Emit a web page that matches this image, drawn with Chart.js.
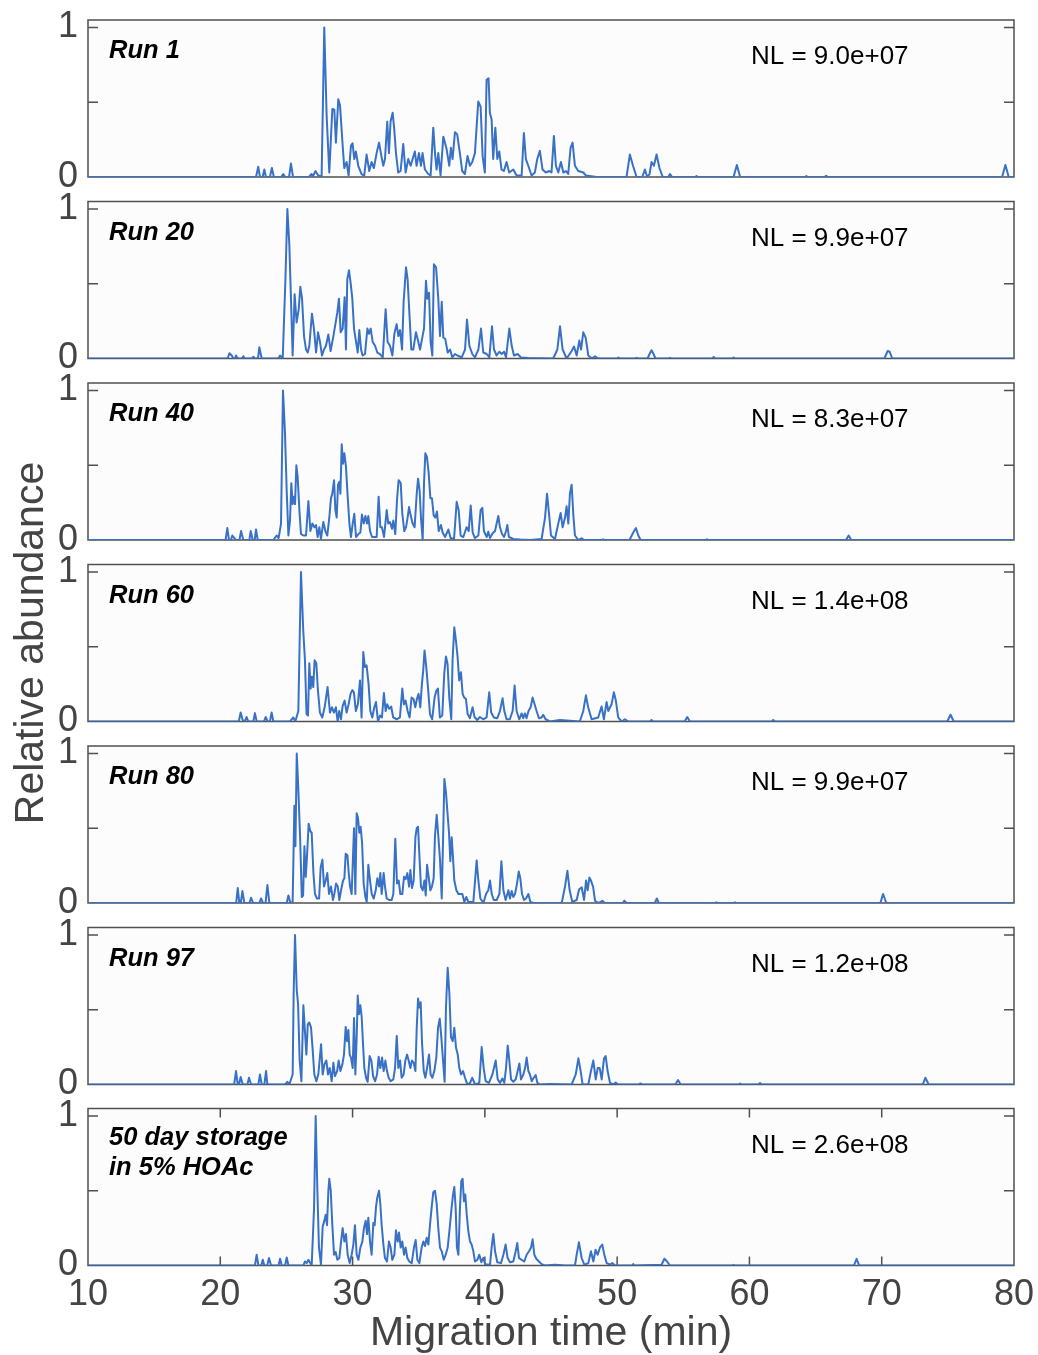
<!DOCTYPE html>
<html>
<head>
<meta charset="utf-8">
<script src="https://cdn.jsdelivr.net/npm/chart.js@4.4.1/dist/chart.umd.min.js"></script>
<style>
  html, body { margin: 0; padding: 0; background: #fff; }
  #wrap { position: relative; width: 1038px; height: 1355px; }
  #wrap canvas { position: absolute; left: 0; top: 0; }
</style>
</head>
<body>
<div id="wrap"></div>
<script>
// relative abundance traces, [migration time (min), relative abundance]
const run1 = [[10,0],[22.7,0],[22.87,0.068],[23.0,0],[23.2,0],[23.33,0.05],[23.45,0],[23.75,0],[23.9,0.06],[24.05,0],[24.6,0],[24.76,0.02],[24.9,0],[25.2,0],[25.34,0.09],[25.5,0],[26.7,0],[26.9,0.02],[27.0,0.005],[27.2,0.04],[27.4,0.01],[27.66,0.005],[27.86,1.0],[28.04,0.41],[28.24,0.03],[28.47,0.455],[28.62,0.45],[28.74,0.23],[28.92,0.52],[29.05,0.48],[29.22,0.25],[29.37,0.06],[29.55,0.1],[29.7,0.01],[29.88,0.21],[30.0,0.225],[30.13,0.12],[30.25,0.17],[30.43,0.075],[30.68,0.02],[30.88,0.01],[31.06,0.15],[31.26,0.04],[31.44,0.1],[31.61,0.06],[31.82,0.16],[32.0,0.23],[32.2,0.13],[32.32,0.075],[32.45,0.12],[32.62,0.37],[32.75,0.16],[32.87,0.37],[33.03,0.43],[33.15,0.32],[33.28,0.16],[33.45,0.03],[33.63,0.04],[33.83,0.22],[34.01,0.03],[34.21,0.12],[34.39,0.075],[34.54,0.12],[34.71,0.17],[34.84,0.075],[35.02,0.16],[35.17,0.075],[35.29,0.16],[35.47,0.05],[35.72,0.02],[35.9,0.01],[36.1,0.33],[36.23,0.16],[36.35,0.05],[36.48,0.16],[36.65,0.01],[36.86,0.27],[36.98,0.23],[37.11,0.185],[37.31,0.075],[37.43,0.195],[37.56,0.12],[37.74,0.3],[37.91,0.285],[38.11,0.16],[38.29,0.04],[38.49,0.02],[38.69,0.14],[38.87,0.075],[39.05,0.1],[39.25,0.16],[39.5,0.505],[39.68,0.47],[39.83,0.14],[40.0,0.03],[40.13,0.65],[40.28,0.66],[40.38,0.43],[40.51,0.385],[40.63,0.12],[40.79,0.33],[40.94,0.12],[41.09,0.17],[41.26,0.05],[41.44,0.04],[41.64,0.1],[41.84,0.03],[42.15,0.05],[42.4,0.01],[42.78,0.01],[42.95,0.295],[43.1,0.12],[43.28,0.075],[43.53,0.01],[43.78,0.03],[43.96,0.12],[44.16,0.175],[44.36,0.05],[44.61,0.03],[44.87,0.04],[45.04,0.03],[45.22,0.275],[45.37,0.075],[45.55,0.03],[45.75,0.1],[45.93,0.03],[46.13,0.04],[46.3,0.02],[46.48,0.195],[46.63,0.23],[46.81,0.075],[47.06,0.04],[47.44,0.03],[47.64,0.01],[48.45,0],[50.71,0],[50.96,0.15],[51.2,0.075],[51.47,0],[51.9,0],[52.1,0.05],[52.27,0],[52.45,0.02],[52.6,0.1],[52.78,0.075],[52.98,0.15],[53.2,0.06],[53.45,0],[53.85,0],[54.0,0.02],[54.15,0],[55.9,0],[56.0,0.006],[56.1,0],[58.8,0],[59.05,0.08],[59.3,0],[64.2,0],[64.3,0.006],[64.4,0],[65.7,0],[65.8,0.008],[65.9,0],[79.1,0],[79.35,0.08],[79.6,0],[80,0]];

const run20 = [[10,0],[20.55,0],[20.69,0.035],[20.86,0.02],[21.0,0],[21.1,0],[21.19,0.02],[21.3,0],[21.65,0],[21.74,0.015],[21.85,0],[22.4,0],[22.5,0.012],[22.6,0],[22.85,0],[22.95,0.075],[23.13,0],[24.39,0],[24.52,0.02],[24.72,0],[24.92,0.52],[25.07,1.0],[25.22,0.76],[25.35,0.38],[25.47,0.02],[25.62,0.43],[25.77,0.24],[25.93,0.33],[26.05,0.48],[26.18,0.4],[26.33,0.15],[26.48,0.06],[26.61,0.04],[26.73,0.085],[26.93,0.3],[27.08,0.2],[27.24,0.04],[27.39,0.175],[27.54,0.11],[27.69,0.02],[27.84,0.06],[27.99,0.085],[28.17,0.16],[28.34,0.05],[28.55,0.15],[28.72,0.24],[28.85,0.31],[28.97,0.4],[29.1,0.175],[29.25,0.2],[29.4,0.41],[29.5,0.06],[29.6,0.53],[29.73,0.59],[29.86,0.5],[29.98,0.4],[30.11,0.2],[30.23,0.13],[30.39,0.04],[30.51,0.19],[30.64,0.06],[30.76,0.02],[30.94,0.03],[31.12,0.2],[31.24,0.165],[31.37,0.2],[31.52,0.11],[31.7,0.085],[31.87,0.04],[32.07,0.03],[32.28,0.007],[32.5,0.33],[32.65,0.11],[32.83,0.085],[33.01,0.02],[33.16,0.165],[33.33,0.23],[33.46,0.15],[33.59,0.19],[33.74,0.06],[33.86,0.38],[34.04,0.61],[34.16,0.53],[34.29,0.31],[34.44,0.06],[34.59,0.06],[34.79,0.175],[34.92,0.13],[35.1,0.06],[35.25,0.13],[35.4,0.2],[35.55,0.52],[35.65,0.4],[35.78,0.44],[35.9,0.11],[36.03,0.02],[36.15,0.63],[36.31,0.61],[36.48,0.4],[36.61,0.15],[36.74,0.38],[36.86,0.14],[37.01,0.13],[37.19,0.04],[37.37,0.06],[37.54,0.007],[37.74,0.03],[37.92,0.02],[38.25,0.007],[38.5,0.06],[38.65,0.26],[38.83,0.085],[39.05,0.03],[39.25,0.007],[39.51,0.06],[39.71,0.2],[39.88,0.04],[40.14,0.03],[40.34,0.007],[40.54,0.215],[40.69,0.06],[40.89,0.02],[41.09,0.045],[41.27,0.03],[41.45,0.045],[41.6,0.007],[41.85,0.2],[42.03,0.085],[42.2,0.02],[42.48,0.03],[42.73,0.007],[43.29,0.003],[45.17,0],[45.48,0.06],[45.68,0.215],[45.88,0.06],[46.18,0],[46.56,0.05],[46.74,0.08],[46.94,0.02],[47.14,0.12],[47.27,0.06],[47.44,0.175],[47.62,0.14],[47.82,0.02],[48.07,0],[48.33,0.015],[48.53,0],[50.0,0],[50.09,0.007],[50.2,0],[51.4,0],[51.47,0.005],[51.55,0],[52.3,0],[52.45,0.03],[52.6,0.055],[52.75,0.03],[52.9,0],[53.9,0],[54.0,0.005],[54.1,0],[57.2,0],[57.3,0.01],[57.4,0],[58.7,0],[58.8,0.007],[58.9,0],[70.2,0],[70.45,0.05],[70.6,0.045],[70.8,0],[80,0]];

const run40 = [[10,0],[20.4,0],[20.53,0.08],[20.66,0],[20.8,0],[20.91,0.03],[21.11,0.007],[21.2,0],[21.45,0],[21.57,0.06],[21.74,0],[22.2,0],[22.3,0.06],[22.45,0],[22.6,0],[22.7,0.07],[22.83,0],[24.01,0],[24.26,0.03],[24.41,0.013],[24.59,0.11],[24.74,1.0],[24.89,0.72],[25.02,0.33],[25.15,0.03],[25.27,0.13],[25.37,0.38],[25.47,0.24],[25.57,0.29],[25.65,0.24],[25.75,0.5],[25.85,0.42],[25.98,0.2],[26.1,0.04],[26.28,0.03],[26.48,0.03],[26.66,0.26],[26.81,0.06],[26.96,0.11],[27.11,0.085],[27.24,0.1],[27.36,0.02],[27.49,0.085],[27.61,0.007],[27.79,0.12],[27.94,0.06],[28.09,0.03],[28.24,0.15],[28.37,0.28],[28.47,0.31],[28.6,0.4],[28.7,0.2],[28.8,0.15],[28.9,0.37],[29.0,0.39],[29.08,0.31],[29.18,0.64],[29.28,0.51],[29.38,0.58],[29.5,0.49],[29.63,0.29],[29.76,0.11],[29.88,0.02],[30.01,0.11],[30.13,0.175],[30.26,0.02],[30.44,0.04],[30.59,0.05],[30.71,0.17],[30.84,0.11],[30.97,0.16],[31.09,0.11],[31.19,0.16],[31.32,0.06],[31.47,0.02],[31.65,0.02],[31.82,0.02],[31.97,0.29],[32.1,0.085],[32.22,0.085],[32.38,0.02],[32.58,0.2],[32.7,0.11],[32.83,0.12],[32.98,0.075],[33.08,0.13],[33.23,0.04],[33.36,0.27],[33.48,0.4],[33.64,0.38],[33.76,0.175],[33.91,0.06],[34.04,0.085],[34.16,0.15],[34.27,0.22],[34.39,0.165],[34.54,0.11],[34.69,0.085],[34.85,0.31],[34.95,0.41],[35.07,0.33],[35.17,0.15],[35.3,0],[35.4,0.38],[35.5,0.58],[35.62,0.555],[35.75,0.45],[35.88,0.28],[36.0,0.28],[36.13,0.165],[36.26,0.15],[36.38,0.19],[36.51,0.06],[36.68,0.1],[36.81,0.05],[36.99,0.02],[37.24,0.07],[37.41,0.013],[37.67,0.007],[37.87,0.255],[38.02,0.2],[38.17,0.03],[38.37,0.02],[38.62,0.085],[38.78,0.06],[38.93,0.23],[39.08,0.05],[39.25,0.013],[39.51,0.03],[39.68,0.2],[39.81,0.215],[39.93,0.06],[40.14,0.02],[40.26,0.055],[40.39,0.013],[40.59,0.045],[40.77,0.06],[40.89,0.11],[41.02,0.16],[41.14,0.085],[41.3,0.04],[41.45,0.02],[41.6,0.06],[41.7,0.1],[41.82,0.02],[42.15,0.007],[42.66,0.003],[43.41,0],[44.29,0.007],[44.55,0.15],[44.7,0.31],[44.85,0.175],[45.0,0.03],[45.3,0.007],[45.55,0.11],[45.73,0.18],[45.88,0.085],[46.06,0.15],[46.18,0.225],[46.31,0.11],[46.43,0.31],[46.56,0.37],[46.69,0.165],[46.81,0.03],[47.07,0],[47.32,0.011],[47.49,0],[48.9,0],[48.95,0.005],[49.05,0],[50.9,0],[50.97,0.007],[51.22,0.05],[51.42,0.08],[51.6,0.03],[51.78,0],[56.7,0],[56.8,0.005],[56.9,0],[67.3,0],[67.5,0.03],[67.7,0],[80,0]];

const run60 = [[10,0],[21.4,0],[21.54,0.06],[21.69,0.01],[21.85,0],[21.99,0.03],[22.12,0],[22.5,0],[22.62,0.056],[22.75,0],[23.3,0],[23.43,0.03],[23.58,0],[23.75,0],[23.88,0.06],[24.01,0],[25.27,0],[25.52,0.027],[25.67,0],[25.9,0.07],[26.1,1.0],[26.27,0.61],[26.4,0.41],[26.52,0.05],[26.63,0.04],[26.73,0.39],[26.83,0.22],[26.93,0.3],[27.03,0.23],[27.13,0.41],[27.26,0.39],[27.38,0.21],[27.53,0.06],[27.71,0.027],[27.89,0.095],[28.11,0.23],[28.29,0.06],[28.44,0.095],[28.59,0.06],[28.74,0.095],[28.87,0],[28.99,0.07],[29.12,0.015],[29.25,0.105],[29.4,0.14],[29.55,0.06],[29.7,0.115],[29.85,0.185],[29.98,0.21],[30.1,0.195],[30.25,0.07],[30.4,0.115],[30.56,0.275],[30.68,0.027],[30.81,0.465],[30.93,0.365],[31.06,0.375],[31.21,0.25],[31.34,0.07],[31.49,0.027],[31.64,0.095],[31.77,0.13],[31.92,0],[32.07,0.04],[32.22,0.027],[32.37,0.19],[32.5,0.07],[32.62,0.115],[32.77,0.085],[32.92,0.1],[33.07,0.027],[33.33,0.015],[33.58,0.027],[33.76,0.22],[33.88,0.115],[34.01,0.14],[34.16,0.07],[34.31,0.027],[34.46,0.16],[34.61,0.15],[34.74,0.095],[34.86,0.15],[34.99,0.185],[35.12,0.095],[35.24,0.25],[35.34,0.34],[35.44,0.475],[35.57,0.365],[35.72,0.205],[35.85,0.05],[36.02,0.015],[36.2,0.16],[36.33,0.205],[36.45,0.22],[36.6,0.027],[36.78,0.04],[36.93,0.32],[37.06,0.435],[37.18,0.385],[37.31,0.16],[37.46,0.015],[37.56,0.41],[37.69,0.63],[37.81,0.545],[37.94,0.43],[38.06,0.275],[38.19,0.33],[38.32,0.185],[38.44,0.16],[38.57,0.15],[38.7,0.05],[38.87,0.022],[39.07,0.095],[39.22,0.03],[39.42,0.01],[39.63,0.03],[39.88,0.015],[40.13,0.027],[40.33,0.195],[40.48,0.06],[40.68,0.027],[40.94,0.022],[41.14,0.07],[41.34,0.155],[41.47,0.07],[41.64,0.015],[41.89,0.015],[42.1,0.07],[42.25,0.24],[42.4,0.07],[42.6,0.015],[42.78,0.054],[42.9,0.022],[43.03,0.054],[43.15,0.022],[43.3,0.07],[43.46,0.095],[43.61,0.16],[43.76,0.115],[43.91,0.07],[44.09,0.022],[44.29,0.027],[44.41,0.045],[44.59,0.015],[44.92,0],[45.67,0.01],[47.18,0],[47.44,0.07],[47.64,0.175],[47.81,0.095],[48.07,0.015],[48.57,0.027],[48.82,0.1],[49.0,0.015],[49.2,0.13],[49.33,0.07],[49.58,0.115],[49.75,0.195],[49.9,0.14],[50.08,0.027],[50.33,0],[50.59,0.015],[50.84,0],[52.5,0],[52.6,0.01],[52.7,0],[55.1,0],[55.3,0.03],[55.5,0],[61.7,0],[61.8,0.01],[61.9,0],[74.95,0],[75.2,0.045],[75.45,0],[80,0]];

const run80 = [[10,0],[21.2,0],[21.32,0.1],[21.44,0],[21.55,0],[21.67,0.08],[21.82,0],[22.2,0],[22.33,0.035],[22.48,0],[22.95,0],[23.08,0.03],[23.23,0],[23.42,0],[23.56,0.12],[23.71,0],[25.02,0],[25.15,0.05],[25.3,0],[25.47,0.007],[25.6,0.65],[25.68,0.38],[25.78,1.0],[25.9,0.76],[26.03,0.45],[26.16,0.04],[26.26,0.05],[26.36,0.38],[26.46,0.175],[26.56,0.32],[26.68,0.53],[26.81,0.48],[26.91,0.47],[27.04,0.2],[27.16,0.06],[27.31,0.03],[27.47,0.03],[27.59,0.24],[27.72,0.29],[27.84,0.11],[27.97,0.15],[28.09,0.2],[28.22,0.06],[28.37,0.11],[28.52,0.02],[28.62,0.06],[28.75,0.13],[28.88,0.11],[29.0,0.02],[29.13,0.085],[29.28,0.15],[29.38,0.165],[29.48,0.33],[29.61,0.32],[29.71,0.2],[29.81,0.11],[29.93,0.06],[30.04,0.33],[30.11,0.5],[30.21,0.06],[30.31,0.6],[30.41,0.57],[30.51,0.47],[30.61,0.51],[30.72,0.4],[30.84,0.13],[30.97,0.04],[31.07,0.007],[31.19,0.255],[31.32,0.15],[31.45,0.06],[31.6,0.03],[31.75,0.085],[31.87,0.165],[32.0,0.11],[32.1,0.2],[32.2,0.06],[32.35,0.2],[32.45,0.11],[32.58,0.03],[32.76,0.02],[32.96,0.02],[33.08,0.06],[33.23,0.43],[33.36,0.13],[33.49,0.15],[33.61,0.06],[33.76,0.06],[33.89,0.175],[34.02,0.16],[34.14,0.2],[34.27,0.11],[34.37,0.22],[34.49,0.1],[34.62,0.15],[34.75,0.44],[34.85,0.5],[34.95,0.51],[35.05,0.32],[35.17,0.11],[35.3,0.085],[35.43,0.15],[35.53,0.05],[35.63,0.255],[35.75,0.175],[35.88,0.085],[36.0,0.11],[36.13,0.165],[36.23,0.45],[36.36,0.59],[36.48,0.45],[36.61,0.29],[36.74,0.03],[36.84,0.42],[36.94,0.83],[37.06,0.74],[37.16,0.62],[37.29,0.47],[37.39,0.28],[37.49,0.44],[37.59,0.31],[37.69,0.15],[37.85,0.085],[38.0,0.06],[38.15,0.06],[38.3,0.06],[38.45,0.007],[38.6,0.04],[38.75,0.007],[39.13,0.007],[39.26,0.15],[39.38,0.285],[39.51,0.15],[39.66,0.03],[39.89,0],[40.09,0.06],[40.26,0.085],[40.39,0.15],[40.52,0.06],[40.67,0.02],[40.89,0.02],[41.1,0.06],[41.25,0.28],[41.4,0.085],[41.57,0.02],[41.78,0.085],[41.9,0.03],[42.03,0.08],[42.15,0.04],[42.28,0.06],[42.43,0.13],[42.56,0.21],[42.68,0.165],[42.81,0.06],[42.96,0.02],[43.11,0.03],[43.29,0.06],[43.44,0.007],[43.67,0],[45.81,0],[46.06,0.11],[46.24,0.215],[46.41,0.085],[46.61,0.007],[46.94,0.02],[47.12,0.09],[47.32,0.105],[47.5,0.02],[47.65,0.15],[47.77,0.085],[47.9,0.17],[48.02,0.15],[48.18,0.11],[48.33,0.015],[48.58,0],[48.88,0.015],[49.08,0],[50.45,0],[50.54,0.015],[50.72,0],[52.85,0],[53.0,0.03],[53.15,0],[57.4,0],[57.5,0.005],[57.6,0],[58.8,0],[58.9,0.005],[59.0,0],[69.9,0],[70.1,0.06],[70.35,0],[80,0]];

const run97 = [[10,0],[21.05,0],[21.19,0.09],[21.32,0],[21.42,0],[21.54,0.05],[21.7,0],[22.05,0],[22.17,0.045],[22.33,0],[22.88,0],[23.0,0.067],[23.13,0],[23.33,0],[23.46,0.09],[23.56,0],[24.9,0],[25.07,0.018],[25.22,0],[25.47,0.067],[25.55,0.63],[25.65,1.0],[25.78,0.63],[25.88,0.54],[26.0,0.16],[26.13,0.022],[26.28,0.53],[26.41,0.34],[26.51,0.2],[26.61,0.4],[26.73,0.415],[26.86,0.38],[26.99,0.225],[27.11,0.067],[27.26,0.022],[27.41,0.067],[27.62,0.27],[27.74,0.067],[27.87,0.135],[28.02,0.16],[28.14,0.067],[28.27,0.11],[28.42,0.022],[28.55,0.145],[28.67,0.056],[28.83,0.09],[28.95,0.16],[29.08,0.09],[29.23,0.135],[29.35,0.2],[29.48,0.385],[29.58,0.29],[29.68,0.365],[29.78,0.2],[29.88,0.18],[30.01,0.11],[30.11,0.445],[30.21,0.067],[30.31,0.315],[30.39,0.595],[30.49,0.47],[30.59,0.53],[30.69,0.45],[30.79,0.27],[30.89,0.11],[31.02,0.045],[31.14,0.018],[31.29,0.19],[31.42,0.16],[31.55,0.056],[31.7,0.022],[31.85,0.067],[31.97,0.185],[32.1,0.11],[32.23,0.18],[32.35,0.09],[32.48,0.16],[32.6,0.09],[32.73,0.045],[32.88,0.022],[33.08,0.034],[33.21,0.11],[33.34,0.325],[33.46,0.11],[33.59,0.16],[33.71,0.045],[33.86,0.067],[33.99,0.16],[34.12,0.2],[34.24,0.16],[34.37,0.11],[34.49,0.16],[34.62,0.145],[34.75,0.09],[34.85,0.38],[34.95,0.575],[35.05,0.515],[35.15,0.55],[35.25,0.28],[35.38,0.09],[35.5,0.045],[35.63,0.11],[35.78,0.2],[35.9,0.067],[36.03,0.045],[36.18,0.09],[36.33,0.18],[36.46,0.38],[36.59,0.44],[36.71,0.315],[36.84,0.16],[36.96,0.018],[37.06,0.515],[37.19,0.78],[37.32,0.605],[37.44,0.315],[37.57,0.29],[37.69,0.38],[37.82,0.245],[37.95,0.2],[38.07,0.11],[38.2,0.067],[38.35,0.09],[38.5,0.045],[38.63,0.011],[38.83,0],[39.05,0.045],[39.26,0],[39.58,0.011],[39.76,0.25],[39.91,0.11],[40.06,0.022],[40.31,0.011],[40.57,0.067],[40.82,0.16],[40.97,0.034],[41.15,0.011],[41.32,0.04],[41.47,0.011],[41.6,0.11],[41.73,0.26],[41.85,0.16],[41.98,0.034],[42.15,0.018],[42.33,0.034],[42.48,0.09],[42.61,0.14],[42.73,0.034],[42.91,0.067],[43.04,0.11],[43.16,0.18],[43.29,0.09],[43.41,0.067],[43.54,0.022],[43.69,0.045],[43.84,0.063],[43.97,0.011],[44.17,0],[44.92,0.004],[46.56,0],[46.87,0.067],[47.07,0.175],[47.24,0.09],[47.39,0],[47.82,0],[48.02,0.09],[48.2,0.16],[48.38,0.034],[48.53,0.11],[48.68,0.11],[48.83,0.034],[49.01,0.175],[49.13,0.19],[49.28,0.09],[49.46,0.011],[49.71,0],[49.89,0.013],[50.04,0],[51.65,0],[51.73,0.007],[51.8,0],[54.4,0],[54.6,0.03],[54.8,0],[59.2,0],[59.3,0.007],[59.4,0],[60.7,0],[60.8,0.01],[60.9,0],[73.1,0],[73.3,0.045],[73.55,0],[80,0]];

const storage50 = [[10,0],[22.62,0],[22.75,0.072],[22.88,0],[23.1,0],[23.21,0.038],[23.33,0],[23.55,0],[23.68,0.05],[23.84,0],[24.4,0],[24.52,0.045],[24.64,0],[24.9,0],[25.02,0.054],[25.15,0],[26.28,0],[26.4,0.027],[26.53,0.016],[26.66,0.038],[26.91,0],[27.09,0.39],[27.21,1.0],[27.34,0.5],[27.46,0.12],[27.61,0.005],[27.74,0.26],[27.87,0.3],[27.97,0.34],[28.07,0.27],[28.17,0.5],[28.24,0.58],[28.35,0.5],[28.47,0.27],[28.6,0.072],[28.72,0.09],[28.85,0.038],[29.0,0.05],[29.13,0.16],[29.25,0.25],[29.38,0.16],[29.5,0.21],[29.63,0.072],[29.78,0.016],[29.93,0.072],[30.06,0.14],[30.18,0.27],[30.31,0.072],[30.44,0.038],[30.59,0.12],[30.74,0.16],[30.86,0.25],[30.99,0.3],[31.09,0.21],[31.19,0.32],[31.32,0.16],[31.44,0.072],[31.57,0.285],[31.67,0.27],[31.77,0.39],[31.87,0.455],[32.0,0.5],[32.1,0.41],[32.2,0.27],[32.33,0.14],[32.45,0.05],[32.6,0.027],[32.75,0.16],[32.88,0.12],[33.0,0.038],[33.16,0.072],[33.28,0.235],[33.41,0.16],[33.51,0.22],[33.64,0.12],[33.76,0.16],[33.89,0.072],[34.01,0.12],[34.14,0.05],[34.29,0.027],[34.47,0.016],[34.64,0.12],[34.77,0.17],[34.9,0.038],[35.05,0.016],[35.22,0.12],[35.35,0.16],[35.48,0.13],[35.6,0.185],[35.73,0.14],[35.85,0.27],[35.98,0.39],[36.1,0.49],[36.23,0.5],[36.36,0.41],[36.48,0.25],[36.61,0.12],[36.74,0.095],[36.89,0.038],[37.04,0.072],[37.19,0.12],[37.34,0.25],[37.49,0.39],[37.59,0.47],[37.69,0.525],[37.79,0.39],[37.89,0.12],[38.0,0.072],[38.12,0.39],[38.22,0.565],[38.32,0.58],[38.42,0.43],[38.52,0.475],[38.63,0.34],[38.75,0.23],[38.88,0.16],[39.0,0.14],[39.13,0.095],[39.25,0.027],[39.43,0.038],[39.58,0.072],[39.73,0.022],[39.88,0.05],[40.03,0.009],[40.39,0.005],[40.51,0.12],[40.64,0.21],[40.77,0.095],[40.94,0.022],[41.22,0.016],[41.4,0.072],[41.57,0.14],[41.72,0.05],[41.9,0.022],[42.15,0.027],[42.33,0.095],[42.45,0.15],[42.58,0.05],[42.78,0.038],[42.98,0.027],[43.16,0.072],[43.34,0.095],[43.49,0.12],[43.61,0.175],[43.74,0.072],[43.89,0.045],[44.09,0.027],[44.29,0.009],[44.55,0],[45.3,0.005],[46.06,0],[46.81,0],[46.94,0.072],[47.11,0.155],[47.32,0.05],[47.52,0.005],[47.82,0.016],[48.02,0.095],[48.2,0.027],[48.37,0.105],[48.53,0.072],[48.7,0.12],[48.88,0.14],[49.03,0.072],[49.21,0.016],[49.46,0.005],[49.63,0.016],[49.84,0],[51.15,0],[51.22,0.009],[51.3,0],[53.36,0.005],[53.57,0.045],[53.74,0.03],[54.0,0],[58.7,0],[58.8,0.005],[58.9,0],[67.9,0],[68.1,0.045],[68.3,0],[80,0]];

const traces = [run1, run20, run40, run60, run80, run97, storage50];
const runLabels = [['Run 1'], ['Run 20'], ['Run 40'], ['Run 60'], ['Run 80'], ['Run 97'], ['50 day storage', 'in 5% HOAc']];
const nlLabels = ['NL = 9.0e+07', 'NL = 9.9e+07', 'NL = 8.3e+07', 'NL = 1.4e+08', 'NL = 9.9e+07', 'NL = 1.2e+08', 'NL = 2.6e+08'];
const xTickValues = [10, 20, 30, 40, 50, 60, 70, 80];
const yTickValues = [0, 0.5, 1];

const W = 1038, H = 1355;
const panelH = 157;
const panelTops = [20, 201.5, 383, 564.5, 746, 927.5, 1108.5];
const lineColor = '#3871c6';
const axisColor = '#444';

Chart.defaults.font.family = '"Liberation Sans", Arial, Helvetica, sans-serif';

// frame, inner tick marks, background and panel text
const panelDecor = {
  id: 'panelDecor',
  beforeDraw(chart) {
    const a = chart.chartArea, ctx = chart.ctx;
    ctx.save();
    ctx.fillStyle = '#fcfcfc';
    ctx.fillRect(a.left, a.top, a.right - a.left, a.bottom - a.top);
    ctx.restore();
  },
  beforeDatasetsDraw(chart, args, opts) {
    const a = chart.chartArea, ctx = chart.ctx;
    const ys = chart.scales.y, xs = chart.scales.x;
    ctx.save();
    ctx.strokeStyle = '#505050';
    ctx.lineWidth = 1.5;
    ctx.strokeRect(a.left, a.top, a.right - a.left, a.bottom - a.top);
    ctx.beginPath();
    yTickValues.slice(1).forEach(v => {
      const y = ys.getPixelForValue(v);
      ctx.moveTo(a.left, y); ctx.lineTo(a.left + 10, y);
      ctx.moveTo(a.right, y); ctx.lineTo(a.right - 10, y);
    });
    if (opts.xTicks) {
      xTickValues.slice(1, -1).forEach(v => {
        const x = xs.getPixelForValue(v);
        ctx.moveTo(x, a.top); ctx.lineTo(x, a.top + 9);
        ctx.moveTo(x, a.bottom); ctx.lineTo(x, a.bottom - 9);
      });
    }
    ctx.stroke();
    ctx.restore();
  },
  afterDraw(chart, args, opts) {
    const a = chart.chartArea, ctx = chart.ctx;
    ctx.save();
    ctx.fillStyle = '#000';
    ctx.textBaseline = 'middle';
    ctx.textAlign = 'left';
    ctx.font = 'italic bold 25.5px "Liberation Sans", Arial, sans-serif';
    const first = opts.label.length > 1 ? 29 : 31;
    opts.label.forEach((t, k) => ctx.fillText(t, a.left + 21, a.top + first + k * 30));
    ctx.font = '26px "Liberation Sans", Arial, sans-serif';
    ctx.fillText(opts.nl, 751, a.top + 37);
    ctx.restore();
  }
};

const wrap = document.getElementById('wrap');

traces.forEach((trace, i) => {
  const canvas = document.createElement('canvas');
  canvas.width = W;
  canvas.height = H;
  wrap.appendChild(canvas);
  const last = i === traces.length - 1;
  const top = panelTops[i];
  const bottom = top + panelH;

  new Chart(canvas, {
    type: 'line',
    data: {
      datasets: [{
        data: trace,
        borderColor: lineColor,
        borderWidth: 2,
        pointRadius: 0,
        tension: 0,
        borderJoinStyle: 'round'
      }]
    },
    plugins: [panelDecor],
    options: {
      responsive: false,
      animation: false,
      devicePixelRatio: 1,
      layout: { padding: { top: top, bottom: last ? 0 : H - bottom, left: 0, right: 24 } },
      plugins: {
        legend: { display: false },
        tooltip: { enabled: false },
        panelDecor: { label: runLabels[i], nl: nlLabels[i], xTicks: last }
      },
      scales: {
        x: {
          type: 'linear',
          min: 10,
          max: 80,
          display: last,
          afterBuildTicks: s => { s.ticks = xTickValues.map(v => ({ value: v })); },
          afterFit: s => { s.height = last ? H - bottom : 0; s.paddingLeft = 0; s.paddingRight = 0; },
          grid: { display: false, drawTicks: false },
          border: { display: false },
          ticks: { font: { size: 36 }, color: axisColor, padding: 8, maxRotation: 0 },
          title: {
            display: last,
            text: 'Migration time (min)',
            font: { size: 41, lineHeight: 1 },
            color: axisColor,
            padding: { top: 0, bottom: 1 }
          }
        },
        y: {
          min: 0,
          max: 1.05,
          afterBuildTicks: s => { s.ticks = yTickValues.map(v => ({ value: v })); },
          afterFit: s => { s.width = 88; s.paddingTop = 0; s.paddingBottom = 0; },
          grid: { display: false, drawTicks: false },
          border: { display: false },
          ticks: {
            font: { size: 36 },
            color: axisColor,
            padding: 10,
            callback: v => (v === 0.5 ? '' : String(v))
          },
          title: {
            display: i === 3,
            text: 'Relative abundance',
            font: { size: 41 },
            color: axisColor,
            padding: { top: 7, bottom: 0 }
          }
        }
      }
    }
  });
});
</script>
</body>
</html>
